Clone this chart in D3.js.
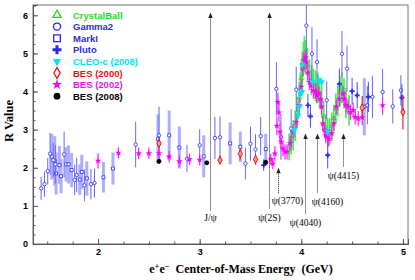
<!DOCTYPE html>
<html>
<head>
<meta charset="utf-8">
<script src="https://cdn.jsdelivr.net/npm/d3@7"></script>
<style>
body { margin: 0; background: #fff; }
svg { display: block; }
</style>
</head>
<body>
<div id="chart"></div>
<script>
const WIDTH = 415, HEIGHT = 280

// each entry: [energy (GeV), R, error]
const gamma2 = [[1.44,1.46,0.30],[1.473,1.57,0.33],[1.505,1.91,0.35],[1.528,2.37,0.55],[1.56,2.2,0.45],[1.58,2.09,0.5],
  [1.666,2.35,0.6],[1.77,1.68,0.4],[1.79,1.81,0.45],[1.866,1.54,0.42],[1.93,1.57,0.4],[1.965,1.60,0.38],
  [2.37,2.61,0.6],[2.60,2.85,0.75],[2.875,2.24,0.36],[3.0,2.59,0.42],[3.15,2.78,0.55],[3.2,2.8,0.55],[3.45,2.11,0.42],
  [3.50,2.63,0.45],[3.55,2.48,0.4],[3.60,2.83,0.5],[3.755,4.07,0.7],[3.80,2.81,0.6],[3.90,3.03,0.5],[3.95,4.05,0.6],
  [4.05,5.73,0.8],[4.105,4.99,0.7],[4.155,4.77,0.6],[4.25,3.77,0.5],[4.40,4.99,0.6],[4.45,4.6,0.6],[4.65,3.64,0.5],
  [4.70,3.86,0.55],[4.80,3.99,0.6],[4.90,3.61,0.45],[4.98,4.03,0.4]]
const markI = [[1.545,2.29,0.6],[1.574,2.18,0.65],[1.587,1.85,0.55],[1.62,2.07,0.5],[1.636,1.78,0.45],[1.686,2.09,0.45],
  [1.71,2.09,0.5],[1.74,1.94,0.45],[1.82,1.69,0.4],[1.84,1.89,0.45],[1.89,1.72,0.45],[2.053,1.75,0.4],[2.147,1.98,0.42],
  [2.59,2.75,0.65],[2.70,2.85,0.65],[2.80,2.53,0.55],[3.04,2.3,0.55],[3.30,2.64,0.55],[3.40,2.55,0.4],[3.65,2.49,0.4],
  [4.62,3.6,0.75]]
const pluto = [[3.63,2.07,0.15],[4.065,3.64,0.3],[4.09,3.35,0.3],[4.26,2.33,0.35],[4.375,4.2,0.4],[4.50,4.01,0.35],
  [4.55,3.9,0.35],[4.66,3.86,0.4],[4.99,3.84,0.35]]
const crystalBall = [[3.88,2.55,0.35],[3.90,2.7,0.35],[3.92,2.85,0.4],[3.94,3.1,0.4],[3.96,3.45,0.4],[3.98,3.85,0.4],
  [3.99,4.1,0.4],[4.00,4.35,0.45],[4.01,4.6,0.45],[4.02,4.85,0.45],[4.03,5.0,0.45],[4.04,4.9,0.45],[4.06,4.7,0.45],
  [4.08,4.45,0.4],[4.10,4.3,0.4],[4.12,4.2,0.4],[4.14,4.15,0.4],[4.16,4.1,0.4],[4.18,3.95,0.4],[4.20,3.75,0.4],
  [4.22,3.35,0.35],[4.24,3.05,0.35],[4.26,2.95,0.35],[4.28,2.95,0.35],[4.30,3.1,0.35],[4.32,3.3,0.35],[4.34,3.55,0.4],
  [4.36,3.75,0.4],[4.38,4.0,0.4],[4.40,4.1,0.4],[4.42,3.95,0.4],[4.44,3.7,0.4],[4.47,3.5,0.4]]
const cleoC = [[3.93,2.98,0.12],[3.97,3.38,0.12],[3.98,3.6,0.12],[3.99,3.94,0.12],[4.006,3.99,0.12],[4.012,4.7,0.12],
  [4.11,4.25,0.12],[4.17,4.3,0.12],[4.20,4.25,0.12],[4.26,2.95,0.12]]
const bes2000 = [[2.6,2.64,0.12],[3.2,2.2,0.12],[3.4,2.37,0.15],[3.55,2.22,0.13],[4.6,3.58,0.3],[5.0,3.46,0.45]]
const bes2002 = [[2.0,2.18,0.2],[2.2,2.39,0.15],[2.4,2.38,0.15],[2.5,2.38,0.15],[2.6,2.38,0.15],[2.7,2.29,0.15],
  [2.8,2.17,0.15],[2.9,2.22,0.15],[3.0,2.21,0.15],[3.70,2.22,0.15],[3.72,2.11,0.15],[3.74,2.37,0.2],[3.76,3.1,0.25],
  [3.77,3.72,0.25],[3.78,3.45,0.25],[3.79,2.94,0.25],[3.80,2.68,0.2],[3.82,2.5,0.2],[3.84,2.42,0.2],[3.86,2.42,0.2],
  [3.89,2.64,0.2],[3.92,2.94,0.2],[3.95,3.2,0.2],[3.98,3.64,0.2],[4.00,4.12,0.2],[4.015,4.6,0.2],[4.025,4.82,0.2],
  [4.04,4.9,0.2],[4.05,4.77,0.2],[4.065,4.5,0.2],[4.08,4.25,0.2],[4.10,4.16,0.2],[4.12,4.03,0.2],[4.14,4.0,0.2],
  [4.15,3.9,0.2],[4.17,3.95,0.2],[4.19,3.8,0.2],[4.20,3.6,0.2],[4.21,3.16,0.2],[4.23,2.98,0.2],[4.24,2.85,0.2],
  [4.26,2.81,0.2],[4.27,2.75,0.2],[4.30,2.9,0.2],[4.32,3.16,0.2],[4.345,3.6,0.2],[4.375,3.81,0.2],[4.41,3.94,0.2],
  [4.425,3.81,0.2],[4.44,3.64,0.2],[4.46,3.6,0.2],[4.485,3.46,0.2],[4.51,3.51,0.2],[4.53,3.33,0.2],[4.56,3.29,0.2],
  [4.60,3.32,0.2],[4.80,3.64,0.2]]
const bes2008 = [[2.6,2.17,0.06],[3.07,2.13,0.06],[3.65,2.14,0.07]]

const resonanceNames = ["J/ψ", "ψ(2S)", "ψ(3770)", "ψ(4040)", "ψ(4160)", "ψ(4415)"]
const resonanceE = [3.097, 3.686, 3.773, 4.039, 4.153, 4.415]

const legendNames = ["CrystalBall", "Gamma2", "MarkI", "Pluto", "CLEO-c (2008)", "BES (2000)", "BES (2002)", "BES (2008)"]

const xTicks = [2, 3, 4, 5]
const yTicks = [0, 1, 2, 3, 4, 5, 6]

// layout (pixels)
const LEFT = 33, RIGHT = 408, TOP = 5, BOTTOM = 244

const svg = d3.select("#chart").append("svg").attr("width", WIDTH).attr("height", HEIGHT)

const x = d3.scaleLinear().domain([1.36, 5.05]).range([LEFT, RIGHT])
const y = d3.scaleLinear().domain([0, 6.27]).range([BOTTOM, TOP])

svg.append("clipPath").attr("id", "plot").append("rect")
  .attr("x", LEFT).attr("y", TOP).attr("width", RIGHT - LEFT).attr("height", BOTTOM - TOP)

// frame
svg.append("rect").attr("x", LEFT).attr("y", TOP).attr("width", RIGHT - LEFT).attr("height", BOTTOM - TOP)
  .attr("fill", "none").attr("stroke", "#777").attr("stroke-width", 1)

// axes, ticks pointing inside
const tickFont = "'Liberation Sans', Arial, sans-serif"
const serif = "'Liberation Serif', 'Times New Roman', serif"
const xAxis = svg.append("g").attr("transform", "translate(0," + BOTTOM + ")")
  .call(d3.axisBottom(x).tickValues(xTicks).tickSize(-5).tickPadding(5).tickFormat(d3.format("d")))
const xMinor = svg.append("g").attr("transform", "translate(0," + BOTTOM + ")")
  .call(d3.axisBottom(x).tickValues(d3.range(1.5, 5.01, 0.25)).tickSize(-2.5).tickFormat(""))
const yAxis = svg.append("g").attr("transform", "translate(" + LEFT + ",0)")
  .call(d3.axisLeft(y).tickValues(yTicks).tickSize(-5).tickPadding(5).tickFormat(d3.format("d")))
const yMinor = svg.append("g").attr("transform", "translate(" + LEFT + ",0)")
  .call(d3.axisLeft(y).tickValues(d3.range(0.25, 6.26, 0.25)).tickSize(-2.5).tickFormat(""))
;[xAxis, xMinor, yAxis, yMinor].forEach(a => {
  a.select(".domain").attr("stroke", "#555")
  a.selectAll(".tick line").attr("stroke", "#555")
  a.selectAll("text").attr("font-family", tickFont).attr("font-weight", "bold").attr("font-size", "9px").attr("fill", "#000")
})

// titles
svg.append("text").attr("x", 241).attr("y", 273).attr("text-anchor", "middle")
  .attr("font-family", serif).attr("font-weight", "bold").attr("font-size", "12px")
  .call(t => {
    t.append("tspan").text("e")
    t.append("tspan").attr("font-size", "8.5px").attr("dy", -4).text("+")
    t.append("tspan").attr("font-size", "12px").attr("dy", 4).text("e")
    t.append("tspan").attr("font-size", "8.5px").attr("dy", -4).text("−")
    t.append("tspan").attr("font-size", "12px").attr("dy", 4).attr("xml:space", "preserve").text("  Center-of-Mass Energy  (GeV)")
  })
svg.append("text").attr("transform", "translate(13,121) rotate(-90)").attr("text-anchor", "middle")
  .attr("font-family", serif).attr("font-weight", "bold").attr("font-size", "12.5px")
  .text("R Value")

const plot = svg.append("g").attr("clip-path", "url(#plot)")

function drawSeries(data, o) {
  plot.append("g").selectAll("line").data(data).enter().append("line")
    .attr("x1", d => x(d[0])).attr("x2", d => x(d[0]))
    .attr("y1", d => y(d[1] - d[2])).attr("y2", d => y(d[1] + d[2]))
    .attr("stroke", o.bar).attr("stroke-width", o.bw)
  plot.append("g").selectAll("path").data(data).enter().append("path")
    .attr("transform", d => "translate(" + x(d[0]) + "," + y(d[1]) + ")" + (o.rot ? " rotate(" + o.rot + ")" : ""))
    .attr("d", d3.symbol(o.type, o.size))
    .attr("fill", o.fill).attr("stroke", o.stroke).attr("stroke-width", o.sw)
}

const styles = {
  "CrystalBall":   {type: d3.symbolTriangle, size: 10, fill: "none", stroke: "#22dd22", sw: 0.8, bar: "#44ee44", bw: 1.6},
  "Gamma2":        {type: d3.symbolCircle, size: 9, fill: "#fff", stroke: "#3a3aff", sw: 0.9, bar: "#6666ff", bw: 1},
  "MarkI":         {type: d3.symbolSquare, size: 9, fill: "#fff", stroke: "#3a3aff", sw: 0.9, bar: "#aeaefa", bw: 3},
  "Pluto":         {type: d3.symbolCross, size: 14, fill: "#2a2aee", stroke: "none", sw: 0, bar: "#4a4aff", bw: 1},
  "CLEO-c (2008)": {type: d3.symbolTriangle, size: 18, fill: "#00e5ee", stroke: "none", sw: 0, bar: "#00e5ee", bw: 1, rot: 180},
  "BES (2000)":    {type: d3.symbolDiamond, size: 16, fill: "#ff9a9a", stroke: "#ee1111", sw: 1, bar: "#ee2222", bw: 1.2},
  "BES (2002)":    {type: d3.symbolStar, size: 14, fill: "#ff00ff", stroke: "none", sw: 0, bar: "#ff22ff", bw: 1.2},
  "BES (2008)":    {type: d3.symbolCircle, size: 18, fill: "#000", stroke: "none", sw: 0, bar: "#000", bw: 1}
}

drawSeries(markI, styles["MarkI"])
drawSeries(crystalBall, styles["CrystalBall"])
drawSeries(gamma2, styles["Gamma2"])
drawSeries(pluto, styles["Pluto"])
drawSeries(bes2002, styles["BES (2002)"])
drawSeries(cleoC, styles["CLEO-c (2008)"])
drawSeries(bes2000, styles["BES (2000)"])
drawSeries(bes2008, styles["BES (2008)"])

// resonance arrows: [top R, bottom px, label baseline px, label dx]
const arrowLayout = [[6.07, 211, 221, 0], [6.07, 209, 221, 0], [2.0, 194, 204, 9], [2.9, 214, 226, 0], [2.9, 193, 205, 10], [2.9, 167, 179, 0]]
resonanceNames.forEach((name, i) => {
  const [topR, bot, ly, dx] = arrowLayout[i]
  const xp = Math.round(x(resonanceE[i])) + 0.5
  const yt = y(topR)
  svg.append("line").attr("x1", xp).attr("x2", xp).attr("y1", yt + 4).attr("y2", bot)
    .attr("stroke", "#222").attr("stroke-width", 1).attr("stroke-dasharray", "1,1")
  svg.append("path").attr("d", "M" + xp + "," + yt + "L" + (xp - 2.2) + "," + (yt + 5.5) + "L" + (xp + 2.2) + "," + (yt + 5.5) + "Z")
    .attr("fill", "#222")
  svg.append("text").attr("x", xp + dx).attr("y", ly).attr("text-anchor", "middle")
    .attr("font-family", serif).attr("font-size", "9.5px").attr("fill", "#000").text(name)
})

// legend
const legendColors = ["#22dd22", "#2a2aee", "#2a2aee", "#2a2aee", "#00e5ee", "#ee1111", "#ee11ee", "#000"]
const legendSizes = [30, 40, 45, 45, 30, 34, 34, 36]
const legend = svg.append("g").attr("transform", "translate(57,15)")
legendNames.forEach((name, i) => {
  const st = styles[name]
  const row = legend.append("g").attr("transform", "translate(0," + (i * 11.6) + ")")
  const open = st.fill === "none" || st.fill === "#fff" || name === "BES (2000)"
  row.append("path").attr("transform", st.rot ? "rotate(" + st.rot + ")" : null)
    .attr("d", d3.symbol(st.type, legendSizes[i]))
    .attr("fill", open ? "none" : st.fill).attr("stroke", open ? legendColors[i] : "none").attr("stroke-width", 1.3)
  row.append("text").attr("x", 16).attr("y", 3.5)
    .attr("font-family", tickFont).attr("font-weight", "bold").attr("font-size", "9.5px")
    .attr("fill", legendColors[i]).text(name)
})
</script>
</body>
</html>
